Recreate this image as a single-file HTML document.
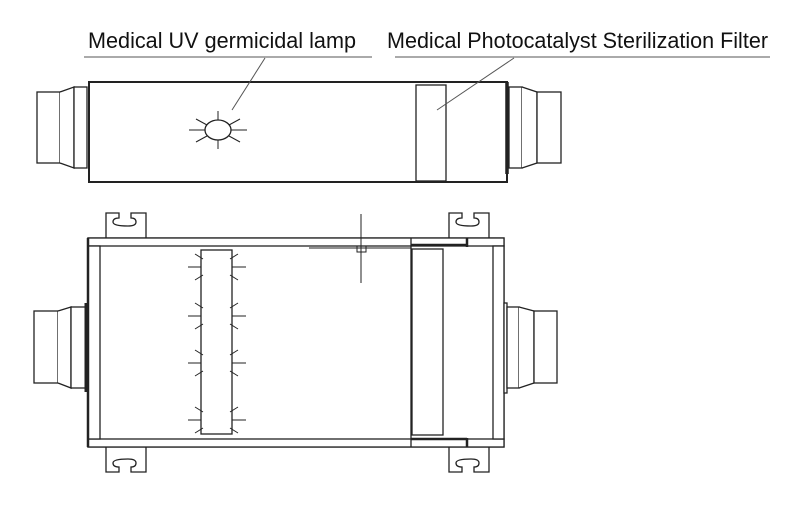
<!DOCTYPE html>
<html><head><meta charset="utf-8"><style>html,body{margin:0;padding:0;background:#fff}svg{display:block}</style></head>
<body>
<svg width="800" height="530" viewBox="0 0 800 530" xmlns="http://www.w3.org/2000/svg">
<g font-family="'Liberation Sans Narrow','Liberation Sans',sans-serif" font-size="22" fill="#111">
<text x="88" y="48" textLength="268" lengthAdjust="spacingAndGlyphs">Medical UV germicidal lamp</text>
<text x="387" y="48" textLength="381" lengthAdjust="spacingAndGlyphs">Medical Photocatalyst Sterilization Filter</text>
</g>
<g stroke="#222" stroke-width="1.3" fill="#fff">
<!-- top view -->
<rect x="37" y="92" width="23" height="71"/>
<path d="M60 92 L74 87 L74 168 L60 163"/>
<rect x="74" y="87" width="13" height="81"/>
<rect x="89" y="82" width="418" height="100" stroke-width="2"/>
<rect x="416" y="85" width="30" height="96"/>
<line x1="507" y1="82" x2="507" y2="174" stroke-width="3.5"/>
<rect x="509" y="87" width="13" height="81"/>
<path d="M522 87 L537 92 L537 163 L522 168"/>
<rect x="537" y="92" width="24" height="71"/>
<ellipse cx="218" cy="130" rx="13" ry="10"/>
<g stroke-width="1">
<line x1="218" y1="111" x2="218" y2="120"/><line x1="218" y1="140" x2="218" y2="149"/>
<line x1="189" y1="130" x2="205" y2="130"/><line x1="231" y1="130" x2="247" y2="130"/>
<line x1="196" y1="119" x2="207" y2="125"/><line x1="229" y1="125" x2="240" y2="119"/>
<line x1="196" y1="142" x2="207" y2="136"/><line x1="229" y1="136" x2="240" y2="142"/>
</g>
<!-- bottom view brackets -->
<path d="M106 238 V213 H119 V218 Q113 218 113 222 Q113 226 128 226 Q136 226 136 222 Q136 218 131 218 V213 H146 V238"/>
<path d="M449 238 V213 H462 V218 Q456 218 456 222 Q456 226 471 226 Q479 226 479 222 Q479 218 474 218 V213 H489 V238"/>
<path d="M106 447 V472 H119 V467 Q113 467 113 463 Q113 459 128 459 Q136 459 136 463 Q136 467 131 467 V472 H146 V447"/>
<path d="M449 447 V472 H462 V467 Q456 467 456 463 Q456 459 471 459 Q479 459 479 463 Q479 467 474 467 V472 H489 V447"/>
<!-- bottom body -->
<rect x="88" y="238" width="416" height="209"/>
<rect x="88" y="238" width="416" height="8"/>
<rect x="88" y="439" width="416" height="8"/>
<rect x="88" y="246" width="12" height="193"/>
<rect x="493" y="246" width="11" height="193"/>
<line x1="88" y1="238" x2="88" y2="447" stroke-width="2.5"/>
<!-- left collar -->
<rect x="34" y="311" width="24" height="72"/>
<path d="M58 311 L71 307 L71 388 L58 383"/>
<rect x="71" y="307" width="15" height="81"/>
<line x1="86" y1="303" x2="86" y2="392" stroke-width="3"/>
<!-- right collar -->
<rect x="504" y="303" width="3" height="90"/>
<rect x="507" y="307" width="12" height="81"/>
<path d="M519 307 L534 311 L534 383 L519 388"/>
<rect x="534" y="311" width="23" height="72"/>
<!-- filter -->
<rect x="412" y="249" width="31" height="186"/>
<line x1="411" y1="238" x2="411" y2="447"/>
<line x1="411" y1="245" x2="467" y2="245" stroke-width="2.5"/>
<line x1="467" y1="238" x2="467" y2="247" stroke-width="2.5"/>
<line x1="411" y1="439" x2="467" y2="439" stroke-width="2.5"/>
<line x1="467" y1="438" x2="467" y2="447" stroke-width="2.5"/>
<!-- lamp tube -->
<rect x="201" y="250" width="31" height="184"/>
<g stroke-width="1">
<path d="M188 267h13M232 267h14M195 254l8 5M195 280l8-5M238 254l-8 5M238 280l-8-5"/>
<path d="M188 316h13M232 316h14M195 303l8 5M195 329l8-5M238 303l-8 5M238 329l-8-5"/>
<path d="M188 363h13M232 363h14M195 350l8 5M195 376l8-5M238 350l-8 5M238 376l-8-5"/>
<path d="M188 420h13M232 420h14M195 407l8 5M195 433l8-5M238 407l-8 5M238 433l-8-5"/>
</g>
<!-- crosshair -->
<g stroke-width="1">
<line x1="361" y1="214" x2="361" y2="283"/>
<line x1="309" y1="248" x2="411" y2="248"/>
<rect x="357" y="246" width="9" height="6" fill="none"/>
</g>
</g>
<g stroke="#555" stroke-width="1" fill="none">
<line x1="84" y1="57" x2="372" y2="57"/>
<line x1="395" y1="57" x2="770" y2="57"/>
<line x1="232" y1="110" x2="265" y2="58"/>
<line x1="437" y1="110" x2="514" y2="58"/>
</g>
</svg>
</body></html>
